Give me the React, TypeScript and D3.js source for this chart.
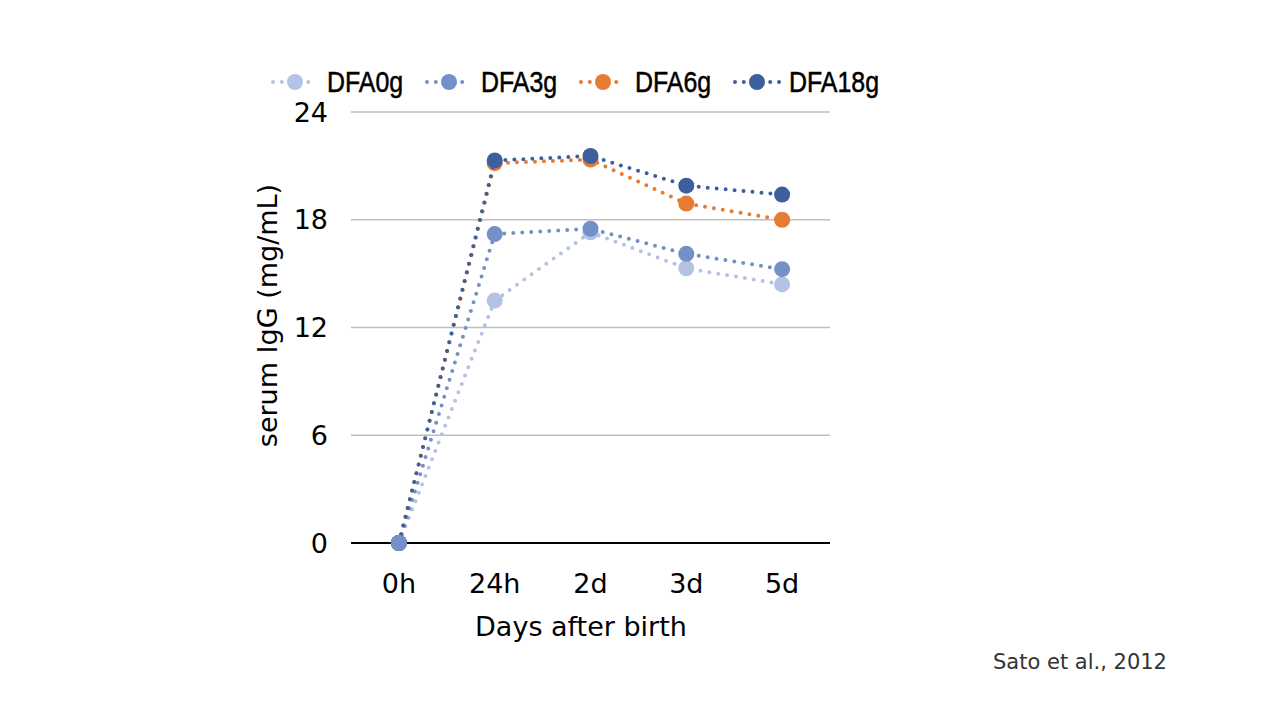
import React from "react";
import * as d3 from "d3";

const categories = ["0h", "24h", "2d", "3d", "5d"];
const seriesNames = ["DFA0g", "DFA3g", "DFA6g", "DFA18g"];
const dfa0g = [0, 13.5, 17.3, 15.3, 14.4];
const dfa3g = [0, 17.2, 17.5, 16.1, 15.25];
const dfa6g = [0, 21.15, 21.35, 18.9, 18.0];
const dfa18g = [0, 21.3, 21.55, 19.9, 19.4];
const seriesColors = ["#b4c3e3", "#7391c8", "#e67b33", "#3d5f9b"];
const yTicks = [0, 6, 12, 18, 24];

const seriesValues = [dfa0g, dfa3g, dfa6g, dfa18g];

export default function App() {
  const W = 1280, H = 720;
  const x = d3.scaleBand().domain(categories).range([351, 830]);
  const cx = (c: string) => (x(c) as number) + x.bandwidth() / 2;
  const y = d3.scaleLinear().domain([0, 24]).range([543, 112]);
  const line = d3
    .line<number>()
    .x((_, i) => cx(categories[i]))
    .y((d) => y(d));
  const font = "'DejaVu Sans', Verdana, sans-serif";
  const legendX = [295, 449, 603, 757];

  return (
    <svg width={W} height={H} style={{ position: "absolute", left: 0, top: 0, background: "#fff" }}>
      {yTicks.map((t) => (
        <g key={t}>
          <line
            x1={351}
            x2={830}
            y1={y(t)}
            y2={y(t)}
            stroke={t === 0 ? "#000" : "#bfbfbf"}
            strokeWidth={t === 0 ? 2 : 1.5}
          />
          <text x={328} y={y(t)} textAnchor="end" dominantBaseline="central" fontFamily={font} fontSize={27} fill="#000">
            {t}
          </text>
        </g>
      ))}
      {categories.map((c) => (
        <text key={c} x={cx(c)} y={583} textAnchor="middle" dominantBaseline="central" fontFamily={font} fontSize={27} fill="#000">
          {c}
        </text>
      ))}
      <text x={581} y={626} textAnchor="middle" dominantBaseline="central" fontFamily={font} fontSize={27} fill="#000">
        Days after birth
      </text>
      <text
        transform={`translate(267,${y(12) - 12}) rotate(-90)`}
        textAnchor="middle"
        dominantBaseline="central"
        fontFamily={font}
        fontSize={27}
        fill="#000"
      >
        serum IgG (mg/mL)
      </text>
      {seriesValues.map((vals, si) => (
        <g key={seriesNames[si]}>
          <path
            d={line(vals) || ""}
            fill="none"
            stroke={seriesColors[si]}
            strokeWidth={4}
            strokeLinecap="round"
            strokeDasharray="0 9"
          />
          {vals.map((v, i) => (
            <circle key={i} cx={cx(categories[i])} cy={y(v)} r={8} fill={seriesColors[si]} />
          ))}
        </g>
      ))}
      {/* 0h marker shown in the reference in DFA3g colour */}
      <circle cx={cx(categories[0])} cy={y(dfa3g[0])} r={8} fill={seriesColors[1]} />
      {seriesNames.map((n, si) => (
        <g key={n}>
          <line
            x1={legendX[si] - 22}
            x2={legendX[si] + 22}
            y1={82}
            y2={82}
            stroke={seriesColors[si]}
            strokeWidth={4}
            strokeLinecap="round"
            strokeDasharray="0 8.8"
          />
          <circle cx={legendX[si]} cy={82} r={8} fill={seriesColors[si]} />
          <text
            transform={`translate(${legendX[si] + 32},92) scale(0.86,1)`}
            fontFamily="'Liberation Sans', Arial, sans-serif"
            fontSize={29}
            fill="#000"
            stroke="#000"
            strokeWidth={0.5}
          >
            {n}
          </text>
        </g>
      ))}
      <text x={993} y={662} dominantBaseline="central" fontFamily={font} fontSize={21} fill="#333">
        Sato et al., 2012
      </text>
    </svg>
  );
}
